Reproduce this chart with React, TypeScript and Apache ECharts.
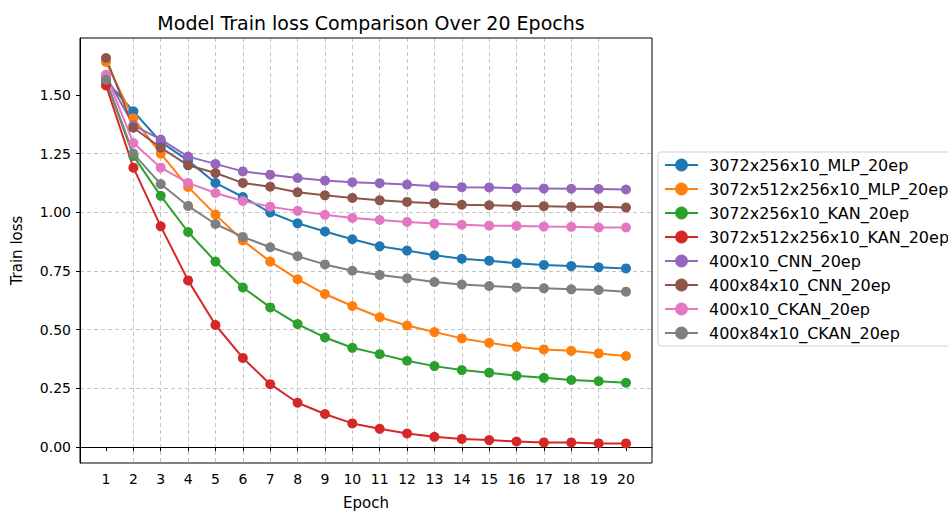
import React, { useEffect, useRef } from "react";
import * as echarts from "echarts";

const epochs = [1, 2, 3, 4, 5, 6, 7, 8, 9, 10, 11, 12, 13, 14, 15, 16, 17, 18, 19, 20];
const yTicks = [0, 0.25, 0.5, 0.75, 1.0, 1.25, 1.5];

const seriesNames = [
  "3072x256x10_MLP_20ep",
  "3072x512x256x10_MLP_20ep",
  "3072x256x10_KAN_20ep",
  "3072x512x256x10_KAN_20ep",
  "400x10_CNN_20ep",
  "400x84x10_CNN_20ep",
  "400x10_CKAN_20ep",
  "400x84x10_CKAN_20ep",
];

const colors = ["#1f77b4", "#ff7f0e", "#2ca02c", "#d62728", "#9467bd", "#8c564b", "#e377c2", "#7f7f7f"];

const mlp256 = [1.56, 1.43, 1.30, 1.22, 1.125, 1.065, 0.999, 0.953, 0.918, 0.885, 0.855, 0.837, 0.817, 0.802, 0.794, 0.783, 0.776, 0.771, 0.766, 0.761];
const mlp512 = [1.64, 1.40, 1.25, 1.108, 0.99, 0.88, 0.79, 0.715, 0.652, 0.601, 0.553, 0.518, 0.49, 0.463, 0.444, 0.427, 0.416, 0.41, 0.399, 0.388];
const kan256 = [1.56, 1.24, 1.07, 0.916, 0.79, 0.68, 0.595, 0.524, 0.467, 0.423, 0.396, 0.368, 0.345, 0.328, 0.317, 0.304, 0.295, 0.286, 0.281, 0.274];
const kan512 = [1.54, 1.19, 0.94, 0.71, 0.52, 0.38, 0.268, 0.189, 0.141, 0.101, 0.078, 0.058, 0.044, 0.035, 0.03, 0.024, 0.02, 0.02, 0.016, 0.016];
const cnn10 = [1.58, 1.37, 1.31, 1.237, 1.206, 1.174, 1.16, 1.146, 1.135, 1.128, 1.124, 1.118, 1.111, 1.107, 1.106, 1.102, 1.101, 1.1, 1.099, 1.097];
const cnn84 = [1.657, 1.36, 1.275, 1.20, 1.167, 1.125, 1.109, 1.085, 1.072, 1.061, 1.051, 1.044, 1.038, 1.032, 1.03, 1.027, 1.026, 1.024, 1.023, 1.02];
const ckan10 = [1.585, 1.295, 1.19, 1.125, 1.082, 1.048, 1.024, 1.006, 0.989, 0.976, 0.967, 0.959, 0.952, 0.947, 0.943, 0.942, 0.939, 0.938, 0.935, 0.935];
const ckan84 = [1.564, 1.25, 1.12, 1.027, 0.95, 0.895, 0.851, 0.813, 0.778, 0.751, 0.733, 0.719, 0.703, 0.692, 0.686, 0.68, 0.676, 0.672, 0.669, 0.662];

const allValues = [mlp256, mlp512, kan256, kan512, cnn10, cnn84, ckan10, ckan84];

const FONT = "DejaVu Sans";
const gridLine = { show: true, showMinLine: false, showMaxLine: false, lineStyle: { color: "#c4c4c4", type: [4, 3], width: 1 } };

export default function App() {
  const ref = useRef<HTMLDivElement>(null);
  useEffect(() => {
    if (!ref.current) return;
    const chart = echarts.init(ref.current, null, { renderer: "svg" });
    const series = seriesNames.map((name, i) => ({
      name,
      type: "line",
      data: epochs.map((e, j) => [e, allValues[i][j]]),
      symbol: "circle",
      symbolSize: 10,
      showSymbol: true,
      lineStyle: { width: 2, color: colors[i] },
      itemStyle: { color: colors[i] },
      emphasis: { disabled: true },
    }));
    chart.setOption({
      animation: false,
      title: {
        text: "Model Train loss Comparison Over 20 Epochs",
        left: 366,
        textAlign: "center",
        top: 8,
        textStyle: { fontFamily: FONT, fontSize: 19, fontWeight: "normal", color: "#000" },
      },
      grid: {
        left: 80,
        right: 296,
        top: 38,
        bottom: 48,
        outerBoundsMode: "none",
        containLabel: false,
        show: true,
        borderColor: "#000",
        borderWidth: 1,
        backgroundColor: "transparent",
        z: 3,
      },
      legend: {
        orient: "vertical",
        left: 658,
        top: 152,
        padding: [5, 8, 5, 6],
        itemWidth: 33,
        itemHeight: 16,
        itemGap: 8,
        backgroundColor: "#fff",
        borderColor: "#d0d0d0",
        borderWidth: 1,
        borderRadius: 3,
        textStyle: { fontFamily: FONT, fontSize: 16, color: "#000", padding: [0, 0, 0, 6] },
        data: seriesNames,
      },
      xAxis: {
        type: "value",
        min: 0.05,
        max: 20.95,
        minInterval: 1,
        maxInterval: 1,
        name: "Epoch",
        nameLocation: "middle",
        nameGap: 32,
        nameTextStyle: { fontFamily: FONT, fontSize: 15, color: "#000" },
        axisLine: { show: true, lineStyle: { color: "#000" } },
        axisTick: { show: true, length: 4, customValues: epochs, lineStyle: { color: "#000" } },
        axisLabel: {
          fontFamily: FONT,
          fontSize: 14,
          color: "#000",
          margin: 9,
          customValues: epochs,
          formatter: (v: number) => String(Math.round(v)),
        },
        splitLine: gridLine,
      },
      yAxis: {
        type: "value",
        min: -0.0675,
        max: 1.742,
        minInterval: 0.25,
        maxInterval: 0.25,
        name: "Train loss",
        nameLocation: "middle",
        nameGap: 56,
        nameRotate: 90,
        nameTextStyle: { fontFamily: FONT, fontSize: 15, color: "#000" },
        axisLine: { show: true, lineStyle: { color: "#000" } },
        axisTick: { show: true, length: 4, customValues: yTicks, lineStyle: { color: "#000" } },
        axisLabel: {
          fontFamily: FONT,
          fontSize: 14,
          color: "#000",
          margin: 9,
          customValues: yTicks,
          formatter: (v: number) => v.toFixed(2),
        },
        splitLine: gridLine,
      },
      series,
    });
    return () => chart.dispose();
  }, []);
  return <div ref={ref} style={{ width: 948, height: 511, position: "absolute", left: 0, top: 0, background: "#fff" }} />;
}
